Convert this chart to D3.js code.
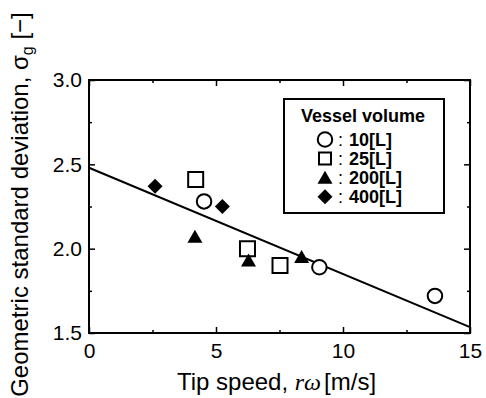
<!DOCTYPE html>
<html>
<head>
<meta charset="utf-8">
<script src="https://cdn.jsdelivr.net/npm/d3@7"></script>
<style>
  html, body { margin: 0; padding: 0; background: #fff; }
  svg { display: block; }
</style>
</head>
<body>
<div id="chart"></div>
<script>
// tip speed [m/s] and geometric standard deviation per vessel volume
const vol10x = [4.53, 9.07, 13.62];
const vol10y = [2.28, 1.89, 1.72];
const vol25x = [4.2, 6.24, 7.52];
const vol25y = [2.41, 2.0, 1.9];
const vol200x = [4.17, 6.28, 8.37];
const vol200y = [2.07, 1.93, 1.95];
const vol400x = [2.6, 5.25];
const vol400y = [2.37, 2.25];

// correlation line end points
const fitX = [0, 15];
const fitY = [2.48, 1.535];

const xTicks = [0, 5, 10, 15];
const xMinor = [2.5, 7.5, 12.5];
const yTicks = [1.5, 2.0, 2.5, 3.0];
const yMinor = [1.75, 2.25, 2.75];
const legendLabels = ["10[L]", "25[L]", "200[L]", "400[L]"];

const width = 486;
const height = 398;
const margin = { top: 80, right: 16, bottom: 65, left: 89 };
const w = width - margin.left - margin.right;
const h = height - margin.top - margin.bottom;

const svg = d3.select("#chart").append("svg")
  .attr("width", width)
  .attr("height", height)
  .attr("font-family", "'Liberation Sans', Arial, sans-serif");

const g = svg.append("g")
  .attr("transform", `translate(${margin.left},${margin.top})`);

const x = d3.scaleLinear().domain([0, 15]).range([0, w]);
const y = d3.scaleLinear().domain([1.5, 3.0]).range([h, 0]);

// axes, ticks pointing inwards
function styleAxis(sel) {
  sel.select(".domain").remove();
  sel.selectAll(".tick line").attr("stroke", "#000").attr("stroke-width", 1.5);
  sel.selectAll("text").attr("fill", "#000");
}

g.append("g").attr("transform", `translate(0,${h})`)
  .call(d3.axisBottom(x).tickValues(xTicks).tickSize(-6).tickPadding(10).tickFormat(d3.format("d")))
  .attr("font-size", 21).attr("font-family", null)
  .call(styleAxis);
g.append("g").attr("transform", `translate(0,${h})`)
  .call(d3.axisBottom(x).tickValues(xMinor).tickSize(-3).tickFormat(""))
  .call(styleAxis);
g.append("g")
  .call(d3.axisTop(x).tickValues(xTicks).tickSize(-6).tickFormat(""))
  .call(styleAxis);
g.append("g")
  .call(d3.axisTop(x).tickValues(xMinor).tickSize(-3).tickFormat(""))
  .call(styleAxis);

g.append("g")
  .call(d3.axisLeft(y).tickValues(yTicks).tickSize(-6).tickPadding(7).tickFormat(d3.format(".1f")))
  .attr("font-size", 21).attr("font-family", null)
  .call(styleAxis);
g.append("g")
  .call(d3.axisLeft(y).tickValues(yMinor).tickSize(-3).tickFormat(""))
  .call(styleAxis);
g.append("g").attr("transform", `translate(${w},0)`)
  .call(d3.axisRight(y).tickValues(yTicks).tickSize(-6).tickFormat(""))
  .call(styleAxis);
g.append("g").attr("transform", `translate(${w},0)`)
  .call(d3.axisRight(y).tickValues(yMinor).tickSize(-3).tickFormat(""))
  .call(styleAxis);

g.append("rect")
  .attr("width", w)
  .attr("height", h)
  .attr("fill", "none")
  .attr("stroke", "#000")
  .attr("stroke-width", 2);

// correlation line
g.append("path")
  .datum(fitX.map((d, i) => [d, fitY[i]]))
  .attr("d", d3.line().x((d) => x(d[0])).y((d) => y(d[1])))
  .attr("fill", "none")
  .attr("stroke", "#000")
  .attr("stroke-width", 2);

// marker shapes
const shapes = {
  circle: (s) => {
    const r = s / 2;
    return `M${r},0A${r},${r} 0 1,1 ${-r},0A${r},${r} 0 1,1 ${r},0Z`;
  },
  square: (s) => `M${-s / 2},${-s / 2}h${s}v${s}h${-s}Z`,
  triangle: (s) => `M0,${-s * 0.47}L${s / 2},${s * 0.4}L${-s / 2},${s * 0.4}Z`,
  diamond: (s) => `M0,${-s / 2}L${s / 2},0L0,${s / 2}L${-s / 2},0Z`,
};

const series = [
  { xs: vol10x, ys: vol10y, shape: "circle", size: 14.5, filled: false },
  { xs: vol25x, ys: vol25y, shape: "square", size: 15, filled: false },
  { xs: vol200x, ys: vol200y, shape: "triangle", size: 15, filled: true },
  { xs: vol400x, ys: vol400y, shape: "diamond", size: 15, filled: true },
];

series.forEach((s) => {
  g.append("g")
    .selectAll("path")
    .data(s.xs.map((d, i) => [d, s.ys[i]]))
    .join("path")
    .attr("transform", (d) => `translate(${x(d[0])},${y(d[1])})`)
    .attr("d", shapes[s.shape](s.size))
    .attr("fill", s.filled ? "#000" : "#fff")
    .attr("stroke", "#000")
    .attr("stroke-width", s.filled ? 0 : 2);
});

// legend
const legend = svg.append("g");
legend.append("rect")
  .attr("x", 284)
  .attr("y", 99)
  .attr("width", 160)
  .attr("height", 114)
  .attr("fill", "#fff")
  .attr("stroke", "#000")
  .attr("stroke-width", 2);
legend.append("text")
  .attr("x", 363)
  .attr("y", 122)
  .attr("text-anchor", "middle")
  .attr("font-size", 18)
  .attr("font-weight", "bold")
  .text("Vessel volume");

const legendSizes = [14.5, 12, 15, 15];
const rows = legend.selectAll(".row")
  .data(series)
  .join("g")
  .attr("class", "row")
  .attr("transform", (d, i) => `translate(0,${145.5 + i * 19.1})`);
rows.append("path")
  .attr("transform", "translate(325,-6)")
  .attr("d", (d, i) => shapes[d.shape](legendSizes[i]))
  .attr("fill", (d) => (d.filled ? "#000" : "#fff"))
  .attr("stroke", "#000")
  .attr("stroke-width", (d) => (d.filled ? 0 : 2));
rows.append("text")
  .attr("x", 338)
  .attr("font-size", 18)
  .text(":");
rows.append("text")
  .attr("x", 349)
  .attr("font-size", 18)
  .attr("font-weight", "bold")
  .text((d, i) => legendLabels[i]);

// axis titles
const xTitle = svg.append("text")
  .attr("x", margin.left + w / 2 - 3)
  .attr("y", 390)
  .attr("text-anchor", "middle")
  .attr("font-size", 24);
xTitle.append("tspan").text("Tip speed, ");
xTitle.append("tspan")
  .attr("font-family", "'Liberation Serif', 'Times New Roman', serif")
  .attr("font-style", "italic")
  .text("r\u03c9");
xTitle.append("tspan").attr("dx", 3).text("[m/s]");

const yTitle = svg.append("text")
  .attr("transform", `translate(28,${margin.top + h / 2 - 2}) rotate(-90)`)
  .attr("text-anchor", "middle")
  .attr("font-size", 24);
yTitle.append("tspan").text("Geometric standard deviation, \u03c3");
yTitle.append("tspan").attr("font-size", 16).attr("dy", 5).text("g");
yTitle.append("tspan").attr("dy", -5).text(" [\u2212]");
</script>
</body>
</html>
